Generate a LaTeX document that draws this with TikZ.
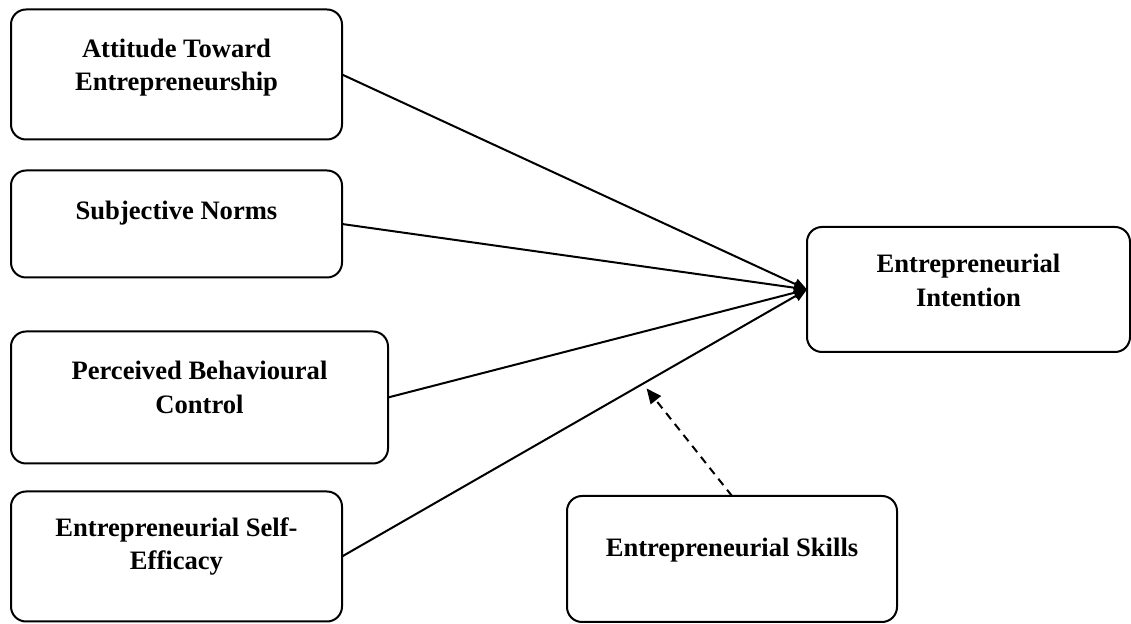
\documentclass[tikz,border=0pt]{standalone}
\usepackage{fontspec}
\setmainfont{Liberation Serif}
\usetikzlibrary{positioning,calc,arrows.meta}

\tikzset{
  box/.style={draw, line width=1pt, rounded corners=7.5pt, outer sep=0pt,
              minimum width=165.5pt, minimum height=65pt},
  lbl/.style={align=center, font=\fontsize{13.3}{16.8}\selectfont\bfseries},
  arr/.style={-{Triangle[length=6.5pt,width=5.5pt]}, line width=1pt},
}

\begin{document}
\begin{tikzpicture}[x=0.5pt,y=-0.5pt]
   \useasboundingbox (0,0) rectangle (1131,624);
   % predictors on the left
   \node[box] (att) at (176.5,74.5) {};
   \node[box, minimum height=53.5pt] (sn) [below right=15.5pt and 0pt of att.south west] {};
   \node[box, minimum width=188.5pt, minimum height=66pt] (pbc) [below right=27pt and 0pt of sn.south west] {};
   \node[box] (ese) [below right=14pt and 0pt of pbc.south west] {};
   % outcome and moderator
   \node[box, minimum width=161.5pt, minimum height=62.5pt] (ei) at (968.5,289.5) {};
   \node[box, minimum width=165pt, minimum height=63pt] (sk) at (732,559) {};

   \node[lbl] (att-t) at ([yshift=3.5pt]att.center) {Attitude Toward\\Entrepreneurship};
   \node[lbl] (sn-t) at ([yshift=5.5pt]sn.center) {Subjective Norms};
   \node[lbl] (pbc-t) at ([yshift=5pt]pbc.center) {Perceived Behavioural\\Control};
   \node[lbl] (ese-t) at ([yshift=5pt]ese.center) {Entrepreneurial Self-\\Efficacy};
   \node[lbl] (ei-t) at ([yshift=4.5pt]ei.center) {Entrepreneurial\\Intention};
   \node[lbl] (sk-t) at ([yshift=4.5pt]sk.center) {Entrepreneurial Skills};

   \draw[arr] (att.east) -- (ei.west);
   \draw[arr] (sn.east) -- (ei.west);
   \draw[arr] (pbc.east) -- (ei.west);
   \draw[arr] (ese.east) -- (ei.west);

   % moderating effect onto the last path
   \coordinate (mod) at ($(ese.east)!0.647!(ei.west)$);
   \draw[arr, -{Triangle[length=7.5pt,width=6.5pt]}, dash pattern=on 4pt off 3pt, shorten >=3pt] (sk.north) -- (mod);
\end{tikzpicture}
\end{document}
